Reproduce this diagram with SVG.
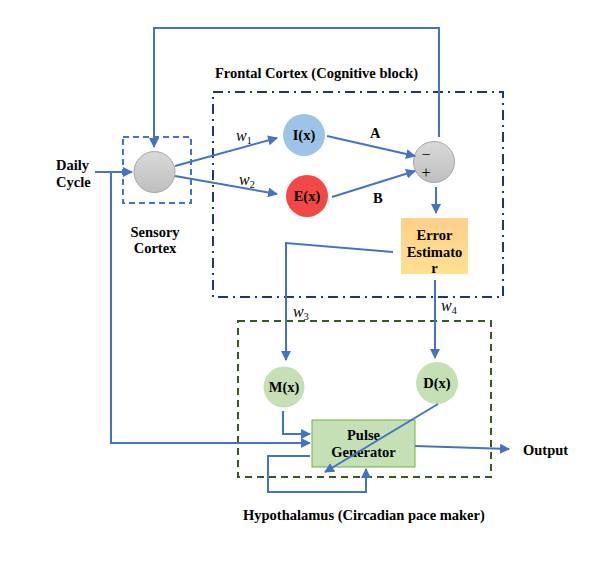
<svg xmlns="http://www.w3.org/2000/svg" width="606" height="563" viewBox="0 0 606 563">
<defs>
<marker id="ah" viewBox="0 0 10 10" refX="9" refY="5" markerWidth="5" markerHeight="5" orient="auto" markerUnits="strokeWidth">
<path d="M0,0 L10,5 L0,10 z" fill="#4472c4"/>
</marker>
<linearGradient id="gray" x1="0" y1="0" x2="0" y2="1">
<stop offset="0" stop-color="#d9d9d9"/><stop offset="1" stop-color="#bfbfbf"/>
</linearGradient>
<linearGradient id="orange" x1="0" y1="0" x2="0" y2="1">
<stop offset="0" stop-color="#ffd08a"/><stop offset="1" stop-color="#ffe08f"/>
</linearGradient>
</defs>
<style>
text{font-family:"Liberation Serif","Times New Roman",serif;font-weight:bold;font-size:14.5px;fill:#000}
.c{stroke:#4472c4;stroke-width:2;fill:none}
.a{stroke:#4472c4;stroke-width:2;fill:none;marker-end:url(#ah)}
.it{font-style:italic;font-size:16px;font-weight:normal}
.sub{font-size:10px;font-style:normal}
</style>
<rect width="606" height="563" fill="#fff"/>

<g id="frontal-box">
<rect x="213" y="92" width="290" height="205" fill="none" stroke="#1f3864" stroke-width="2" stroke-dasharray="10,5,2,5"/>
<text x="215" y="78">Frontal Cortex (Cognitive block)</text>
</g>
<g id="hypothalamus-box">
<rect x="238" y="321" width="253" height="156" fill="none" stroke="#385723" stroke-width="2" stroke-dasharray="7,5"/>
<text x="243" y="520">Hypothalamus (Circadian pace maker)</text>
</g>
<g id="sensory-box">
<rect x="123" y="137" width="68" height="66" fill="none" stroke="#4472c4" stroke-width="2" stroke-dasharray="6,4"/>
<text x="155" y="237" text-anchor="middle">Sensory</text>
<text x="155" y="253" text-anchor="middle">Cortex</text>
</g>

<g id="daily-cycle">
<text x="56" y="170">Daily</text>
<text x="56" y="187">Cycle</text>
</g>
<g id="sensory-node">
<circle cx="154.5" cy="172" r="20.5" fill="url(#gray)" stroke="#a6a6a6" stroke-width="1"/>
</g>
<g id="I-node">
<circle cx="304" cy="135" r="21" fill="#9dc3e6"/>
<text x="304" y="140" text-anchor="middle">I(x)</text>
</g>
<g id="E-node">
<circle cx="307" cy="196" r="21" fill="#f24848"/>
<text x="307" y="201" text-anchor="middle">E(x)</text>
</g>
<g id="sum-node">
<circle cx="434" cy="162" r="20.5" fill="url(#gray)" stroke="#a6a6a6" stroke-width="1"/>
<text x="426" y="158" text-anchor="middle" style="font-weight:normal">–</text>
<text x="426" y="178" text-anchor="middle" style="font-weight:normal;font-size:16px">+</text>
</g>
<g id="error-estimator">
<rect x="401" y="218" width="67" height="56" fill="url(#orange)"/>
<text x="434.5" y="240" text-anchor="middle">Error</text>
<text x="434.5" y="257" text-anchor="middle">Estimato</text>
<text x="434.5" y="273" text-anchor="middle">r</text>
</g>
<g id="M-node">
<circle cx="284" cy="387" r="20.5" fill="#c5e0b4"/>
<text x="284" y="392" text-anchor="middle">M(x)</text>
</g>
<g id="D-node">
<circle cx="437" cy="383" r="21" fill="#c5e0b4"/>
<text x="437" y="388" text-anchor="middle">D(x)</text>
</g>
<g id="pulse-generator">
<rect x="312" y="420" width="103" height="47" fill="#c5e0b4" stroke="#70ad47" stroke-width="1"/>
<text x="363.5" y="440" text-anchor="middle">Pulse</text>
<text x="363.5" y="457" text-anchor="middle">Generator</text>
</g>

<g id="connectors">
<path class="a" d="M439,137 V28 H154 V147"/>
<path class="a" d="M95,172 H132"/>
<path class="a" d="M111,172 V443 H310"/>
<path class="a" d="M175,166 L277,138"/>
<path class="a" d="M175,176 L277,194"/>
<path class="a" d="M327,136 L415,156"/>
<path class="a" d="M332,197 L415,171"/>
<path class="a" d="M436,187 V213"/>
<path class="a" d="M393,252 L286,243 V360"/>
<path class="a" d="M435,280 V358"/>
<path class="a" d="M283,411 V434 H310"/>
<path class="a" d="M438,404 L325,472"/>
<path class="a" d="M310,456 H268 V492 H366 V469"/>
<path class="a" d="M415,446 L509,449"/>
</g>

<g id="labels">
<text x="370" y="138">A</text>
<text x="373" y="203">B</text>
<text class="it" x="236" y="141">w<tspan class="sub" dy="3">1</tspan></text>
<text class="it" x="239" y="185">w<tspan class="sub" dy="3">2</tspan></text>
<text class="it" x="293" y="317">w<tspan class="sub" dy="3">3</tspan></text>
<text class="it" x="441" y="311">w<tspan class="sub" dy="3">4</tspan></text>
<text x="523" y="455">Output</text>
</g>
</svg>
